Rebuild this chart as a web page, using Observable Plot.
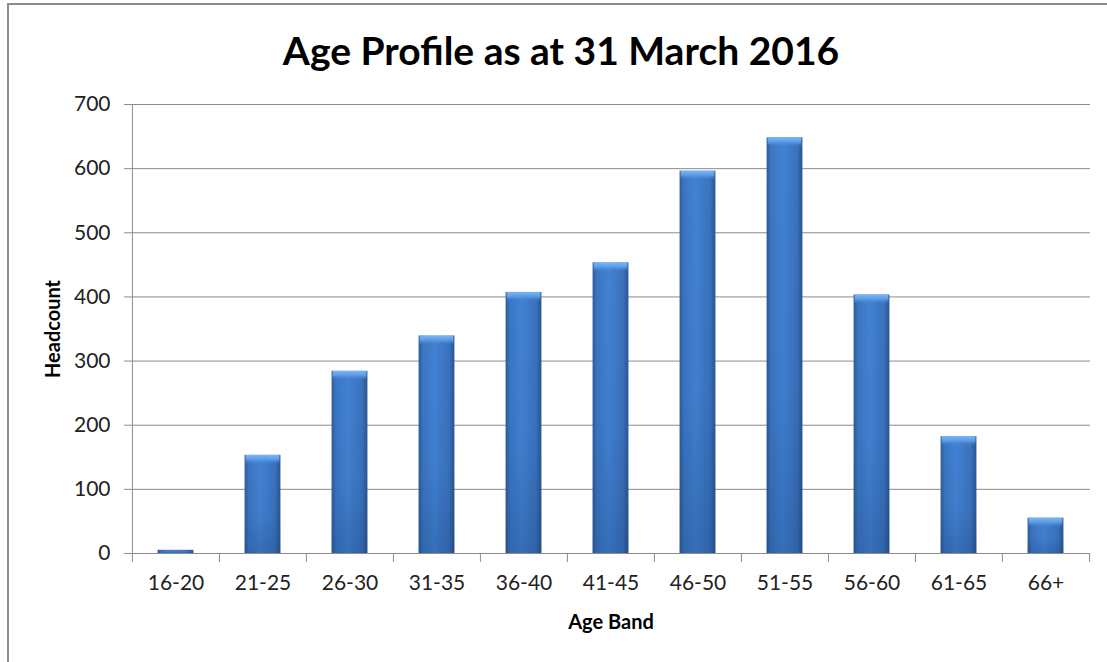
<!DOCTYPE html>
<html>
<head>
<meta charset="utf-8">
<script src="https://cdn.jsdelivr.net/npm/d3@7"></script>
<script src="https://cdn.jsdelivr.net/npm/@observablehq/plot@0.6"></script>
<style>
  html, body { margin: 0; padding: 0; background: #fff; }
  #wrap { position: relative; width: 1107px; height: 662px; overflow: hidden; background: #fff; }
  #border { position: absolute; left: 7px; top: 3px; width: 1200px; height: 800px; border-left: 2px solid #8c8c8c; border-top: 2px solid #8c8c8c; }
  #title { position: absolute; left: 0; top: 0; width: 1107px; padding-left: 15px; box-sizing: border-box; height: 80px; text-align: center;
           font-family: Lato, "Open Sans", sans-serif; font-weight: bold; font-size: 39px; line-height: 100px; color: #000; }
  #chart { position: absolute; left: 0; top: 80px; }
</style>
</head>
<body>
<div id="wrap">
  <div id="border"></div>
  <div id="title"></div>
  <div id="chart"></div>
</div>
<script>
const titleText = "Age Profile as at 31 March 2016";
const categories = ["16-20", "21-25", "26-30", "31-35", "36-40", "41-45", "46-50", "51-55", "56-60", "61-65", "66+"];
const headcount = [5, 153, 284, 339, 407, 453, 596, 648, 403, 182, 55];
const yTicks = [0, 100, 200, 300, 400, 500, 600, 700];
const xLabel = "Age Band";
const yLabel = "Headcount";

document.getElementById("title").textContent = titleText;

const data = categories.map((c, i) => ({band: c, count: headcount[i]}));

const W = 1107, H = 582, mL = 131, mR = 17, mT = 24, mB = 109;
const bw = (W - mL - mR) / categories.length;
const barW = 36;
const inset = (bw - barW) / 2;
const grey = "#8c8c8c";
const tickFont = 21;

const svg = Plot.plot({
  width: W, height: H,
  marginLeft: mL, marginRight: mR, marginTop: mT, marginBottom: mB,
  style: {fontFamily: "Lato, 'Open Sans', sans-serif", fontSize: tickFont + "px", color: "#222", background: "transparent"},
  x: {domain: categories, padding: 0, axis: null},
  y: {domain: [0, 700], axis: null},
  marks: [
    Plot.ruleY(yTicks, {stroke: grey, strokeWidth: 1}),
    Plot.ruleX([categories[0]], {dx: -bw / 2, stroke: grey}),
    Plot.axisY({ticks: yTicks, tickSize: 7, tickPadding: 14, label: null, stroke: grey, fontSize: tickFont}),
    Plot.axisX({tickSize: 0, tickPadding: 22, label: null, fontSize: tickFont}),
    Plot.axisX({tickSize: 9, tickFormat: () => "", dx: -bw / 2, label: null, stroke: grey}),
    Plot.axisX({ticks: [categories[categories.length - 1]], tickSize: 9, tickFormat: () => "", dx: bw / 2, label: null, stroke: grey}),
    Plot.barY(data, {x: "band", y: "count", fill: "url(#barGrad)", insetLeft: inset, insetRight: inset}),
    Plot.barY(data, {x: "band", y: "count", fill: "url(#barShade)", insetLeft: inset, insetRight: inset}),
    Plot.barY(data.filter(d => d.count > 30), {x: "band", y1: "count", y2: "count", fill: "url(#barCap)", insetLeft: inset + 1, insetRight: inset + 1, insetBottom: -9}),
    Plot.text([yLabel], {frameAnchor: "left", textAnchor: "middle", lineAnchor: "middle", dx: -78, rotate: -90, fontSize: 20, fontWeight: "bold", fill: "#000"}),
    Plot.text([xLabel], {frameAnchor: "bottom", textAnchor: "middle", lineAnchor: "middle", dy: 69, fontSize: 20, fontWeight: "bold", fill: "#000"})
  ]
});

d3.select(svg).selectAll('g[aria-label*="tick label"]').attr("font-size", tickFont).style("font-size", tickFont + "px");

const ns = "http://www.w3.org/2000/svg";
const defs = document.createElementNS(ns, "defs");
defs.innerHTML = `
  <linearGradient id="barGrad" x1="0" y1="0" x2="1" y2="0">
    <stop offset="0" stop-color="#2d5b97"/>
    <stop offset="0.12" stop-color="#3b76c2"/>
    <stop offset="0.45" stop-color="#4282d3"/>
    <stop offset="0.85" stop-color="#3a72bd"/>
    <stop offset="1" stop-color="#2a5590"/>
  </linearGradient>
  <linearGradient id="barShade" x1="0" y1="0" x2="0" y2="1">
    <stop offset="0" stop-color="#0a2a5a" stop-opacity="0"/>
    <stop offset="0.6" stop-color="#0a2a5a" stop-opacity="0.05"/>
    <stop offset="1" stop-color="#0a2a5a" stop-opacity="0.22"/>
  </linearGradient>
  <linearGradient id="barCap" x1="0" y1="0" x2="0" y2="1">
    <stop offset="0" stop-color="#7cb6f2"/>
    <stop offset="0.5" stop-color="#5b9be6"/>
    <stop offset="1" stop-color="#4585d6" stop-opacity="0"/>
  </linearGradient>`;
svg.insertBefore(defs, svg.firstChild);
document.getElementById("chart").appendChild(svg);
</script>
</body>
</html>
